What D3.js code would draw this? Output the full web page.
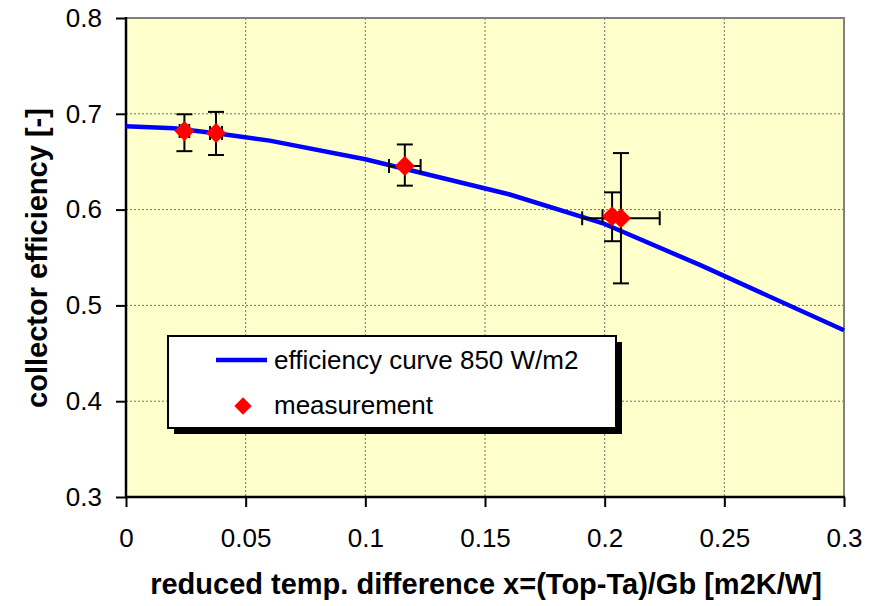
<!DOCTYPE html>
<html>
<head>
<meta charset="utf-8">
<script src="https://cdn.jsdelivr.net/npm/d3@7"></script>
<style>
  body { margin: 0; background: #fff; }
  svg text { font-family: "Liberation Sans", Arial, sans-serif; }
</style>
</head>
<body>
<svg id="chart" width="892" height="606"></svg>
<script>
// datos
const xTicks = [0, 0.05, 0.1, 0.15, 0.2, 0.25, 0.3];
const yTicks = [0.3, 0.4, 0.5, 0.6, 0.7, 0.8];

// curva de eficiencia 850 W/m2
const curveX = [0, 0.02, 0.04, 0.06, 0.1, 0.16, 0.2, 0.24, 0.3];
const curveY = [0.687, 0.685, 0.679, 0.672, 0.6525, 0.616, 0.585, 0.542, 0.474];

// mediciones con barras de error
const measX = [0.0244, 0.0376, 0.1165, 0.2031, 0.2068];
const measY = [0.682, 0.680, 0.6455, 0.593, 0.591];
const errX = [0.002, 0.0025, 0.0066, 0.004, 0.0162];
const errYup = [0.0175, 0.022, 0.0225, 0.025, 0.068];
const errYdown = [0.021, 0.023, 0.0205, 0.026, 0.068];

const legendLabels = ["efficiency curve 850 W/m2", "measurement"];

const svg = d3.select("#chart");
const plotL = 126, plotR = 844, plotT = 18, plotB = 497;

const x = d3.scaleLinear().domain([0, 0.3]).range([plotL, plotR]);
const y = d3.scaleLinear().domain([0.3, 0.8]).range([plotB, plotT]);

// fondo
svg.append("rect")
    .attr("x", plotL).attr("y", plotT)
    .attr("width", plotR - plotL).attr("height", plotB - plotT)
    .attr("fill", "#FFFFCC");

// grid
svg.append("g").selectAll("line")
    .data(xTicks.slice(1, -1))
    .join("line")
    .attr("x1", d => x(d)).attr("x2", d => x(d))
    .attr("y1", plotT).attr("y2", plotB)
    .attr("stroke", "#707070").attr("stroke-width", 1).attr("stroke-dasharray", "2,2");
svg.append("g").selectAll("line")
    .data(yTicks.slice(1, -1))
    .join("line")
    .attr("y1", d => y(d)).attr("y2", d => y(d))
    .attr("x1", plotL).attr("x2", plotR)
    .attr("stroke", "#707070").attr("stroke-width", 1).attr("stroke-dasharray", "2,2");

// borde gris arriba y derecha
svg.append("path")
    .attr("d", `M${plotL},${plotT}H${plotR}V${plotB}`)
    .attr("fill", "none").attr("stroke", "#808080").attr("stroke-width", 2);

// ejes
const axisX = d3.axisBottom(x).tickValues(xTicks).tickSize(10).tickPadding(22)
    .tickFormat(d => d3.format("")(d));
const axisY = d3.axisLeft(y).tickValues(yTicks).tickSize(10).tickPadding(14)
    .tickFormat(d => d3.format(".1f")(d));

const gx = svg.append("g").attr("transform", `translate(0,${plotB})`).call(axisX);
const gy = svg.append("g").attr("transform", `translate(${plotL},0)`).call(axisY);

[gx, gy].forEach(g => {
    g.select(".domain").remove();
    g.selectAll(".tick line").attr("stroke", "#000").attr("stroke-width", 2);
    g.selectAll(".tick text").attr("font-size", 26).attr("fill", "#000")
        .style("font-family", "'Liberation Sans', Arial, sans-serif");
});
gx.selectAll(".tick text").attr("dy", "0.71em");

svg.append("line")
    .attr("x1", plotL).attr("x2", plotL).attr("y1", plotT - 1).attr("y2", plotB + 1)
    .attr("stroke", "#000").attr("stroke-width", 2.5);
svg.append("line")
    .attr("x1", plotL - 1).attr("x2", plotR + 1).attr("y1", plotB).attr("y2", plotB)
    .attr("stroke", "#000").attr("stroke-width", 2.5);

// curva
const curve = curveX.map((d, i) => [d, curveY[i]]);
svg.append("path")
    .datum(curve)
    .attr("d", d3.line().x(d => x(d[0])).y(d => y(d[1])))
    .attr("fill", "none").attr("stroke", "#0000FF").attr("stroke-width", 4.5)
    .attr("stroke-linejoin", "round");

// barras de error
const meas = measX.map((d, i) => ({
    x: d, y: measY[i], ex: errX[i], up: errYup[i], down: errYdown[i]
}));
const eb = svg.append("g").attr("stroke", "#000").attr("stroke-width", 2);
meas.forEach(m => {
    const cx = x(m.x), cy = y(m.y);
    const y1 = y(m.y + m.up), y2 = y(m.y - m.down);
    const x1 = x(m.x - m.ex), x2 = x(m.x + m.ex);
    eb.append("line").attr("x1", cx).attr("x2", cx).attr("y1", y1).attr("y2", y2);
    eb.append("line").attr("x1", cx - 8).attr("x2", cx + 8).attr("y1", y1).attr("y2", y1);
    eb.append("line").attr("x1", cx - 8).attr("x2", cx + 8).attr("y1", y2).attr("y2", y2);
    eb.append("line").attr("x1", x1).attr("x2", x2).attr("y1", cy).attr("y2", cy);
    eb.append("line").attr("x1", x1).attr("x2", x1).attr("y1", cy - 7).attr("y2", cy + 7);
    eb.append("line").attr("x1", x2).attr("x2", x2).attr("y1", cy - 7).attr("y2", cy + 7);
});

// rombos
const diamond = d3.symbol(d3.symbolSquare, 200);
svg.append("g").selectAll("path")
    .data(meas)
    .join("path")
    .attr("d", diamond)
    .attr("transform", d => `translate(${x(d.x)},${y(d.y)}) rotate(45)`)
    .attr("fill", "#FF0000");

// leyenda
const lg = svg.append("g");
lg.append("rect").attr("x", 174).attr("y", 342).attr("width", 448).attr("height", 92).attr("fill", "#000");
lg.append("rect").attr("x", 168).attr("y", 336).attr("width", 448).attr("height", 92)
    .attr("fill", "#fff").attr("stroke", "#000").attr("stroke-width", 2);
lg.append("line").attr("x1", 216).attr("x2", 267).attr("y1", 360).attr("y2", 360)
    .attr("stroke", "#0000FF").attr("stroke-width", 4.5);
lg.append("path").attr("d", d3.symbol(d3.symbolSquare, 150))
    .attr("transform", "translate(243,406) rotate(45)").attr("fill", "#FF0000");
lg.selectAll("text")
    .data(legendLabels)
    .join("text")
    .attr("x", 274)
    .attr("y", (d, i) => 369 + i * 45)
    .attr("font-size", 26)
    .attr("fill", "#000")
    .text(d => d);

// titulos
svg.append("text")
    .attr("x", 486).attr("y", 594)
    .attr("text-anchor", "middle")
    .attr("font-size", 29).attr("font-weight", "bold")
    .text("reduced temp. difference x=(Top-Ta)/Gb [m2K/W]");
svg.append("text")
    .attr("transform", "translate(47,258) rotate(-90)")
    .attr("text-anchor", "middle")
    .attr("font-size", 29).attr("font-weight", "bold")
    .text("collector efficiency [-]");
</script>
</body>
</html>
